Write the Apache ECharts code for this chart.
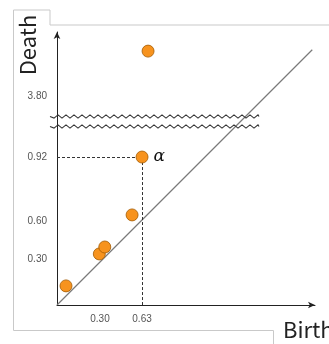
<!DOCTYPE html>
<html>
<head>
<meta charset="utf-8">
<script src="https://cdn.jsdelivr.net/npm/echarts@6/dist/echarts.min.js"></script>
<style>
  html, body { margin: 0; padding: 0; background: #fff; }
  #chart { width: 329px; height: 344px; }
</style>
</head>
<body>
<div id="chart"></div>
<script>
// schematic positions (the original figure is not drawn to scale)
const birth = [0.066, 0.31, 0.35, 0.55, 0.623, 0.667];
const death = [0.14, 0.374, 0.425, 0.66, 1.084, 1.86];
const alphaIndex = 4;
const diagLimits = [0, 1.87];

const xTickPos = [0.315, 0.623];
const xTickText = ['0.30', '0.63'];
const yTickPos = [0.337, 0.61, 1.084, 1.53];
const yTickText = ['0.30', '0.60', '0.92', '3.80'];

const breakStart = 1.31;
const breakEnd = 1.385;

const xMax = 1.89;
const yMax = 2.0;

const chart = echarts.init(document.getElementById('chart'));

const points = birth.map((b, i) => {
  const item = { value: [b, death[i]] };
  if (i === alphaIndex) {
    item.label = {
      show: true,
      formatter: 'α',
      position: 'right',
      distance: 5,
      fontFamily: 'DejaVu Serif',
      fontStyle: 'italic',
      fontSize: 17,
      color: '#111',
    };
  }
  return item;
});

const ax = birth[alphaIndex];
const ay = death[alphaIndex];

const frame = '#c9c9c9';

chart.setOption({
  animation: false,
  grid: [
    { left: 57, right: 14, top: 32, bottom: 39, outerBoundsMode: 'none' },
    { left: 50, right: 70, top: 32, bottom: 39, outerBoundsMode: 'none' },
  ],
  xAxis: [
    {
      type: 'value',
      gridIndex: 0,
      min: 0,
      max: xMax,
      splitLine: { show: false },
      axisTick: { show: false },
      axisLine: {
        onZero: false,
        symbol: ['none', 'arrow'],
        symbolSize: [5, 7],
        lineStyle: { color: '#222', width: 1 },
      },
      axisLabel: {
        customValues: xTickPos,
        formatter: (v) => xTickText[xTickPos.indexOf(v)],
        fontFamily: 'Liberation Sans',
        fontSize: 10,
        color: '#555',
        margin: 9,
      },
    },
    {
      type: 'value',
      gridIndex: 1,
      min: 0,
      max: 1,
      axisLine: { show: false },
      axisTick: { show: false },
      axisLabel: { show: false },
      splitLine: { show: false },
    },
  ],
  yAxis: [
    {
      type: 'value',
      gridIndex: 0,
      min: 0,
      max: yMax,
      splitLine: { show: false },
      axisTick: { show: false },
      axisLine: {
        onZero: false,
        symbol: ['none', 'arrow'],
        symbolSize: [5, 7],
        lineStyle: { color: '#222', width: 1 },
      },
      axisLabel: {
        customValues: yTickPos,
        formatter: (v) => yTickText[yTickPos.indexOf(v)],
        fontFamily: 'Liberation Sans',
        fontSize: 10,
        color: '#555',
        margin: 10,
      },
    },
    {
      type: 'value',
      gridIndex: 1,
      min: 0,
      max: yMax,
      axisLine: { show: false },
      axisTick: { show: false },
      axisLabel: { show: false },
      splitLine: { show: false },
      breaks: [{ start: breakStart, end: breakEnd, gap: '3.7%' }],
      breakArea: {
        show: true,
        expandOnClick: false,
        zigzagAmplitude: 1.6,
        zigzagMinSpan: 4,
        zigzagMaxSpan: 4,
        zigzagZ: 100,
        itemStyle: {
          color: 'rgba(0,0,0,0)',
          borderColor: '#333',
          borderWidth: 1.1,
          borderType: 'solid',
          opacity: 1,
        },
      },
    },
  ],
  series: [
    {
      type: 'line',
      xAxisIndex: 0,
      yAxisIndex: 0,
      data: diagLimits.map((v) => [v, v]),
      showSymbol: false,
      silent: true,
      z: 1,
      lineStyle: { color: '#7a7a7a', width: 1.2 },
    },
    {
      type: 'scatter',
      xAxisIndex: 0,
      yAxisIndex: 0,
      data: points,
      symbolSize: 12,
      z: 5,
      itemStyle: {
        color: '#F7931E',
        borderColor: '#A35A00',
        borderWidth: 0.8,
        opacity: 1,
      },
      markLine: {
        silent: true,
        symbol: 'none',
        label: { show: false },
        lineStyle: { color: '#333', width: 1, type: [3, 2] },
        data: [
          [{ coord: [0, ay] }, { coord: [ax, ay] }],
          [{ coord: [ax, ay] }, { coord: [ax, 0] }],
        ],
      },
    },
  ],
  graphic: [
    {
      type: 'polyline',
      silent: true,
      shape: { points: [[50, 25], [329, 25]] },
      style: { stroke: frame, lineWidth: 1, fill: null },
    },
    {
      type: 'polyline',
      silent: true,
      shape: { points: [[50, 25], [50, 10], [13.5, 10], [13.5, 330.5], [273.5, 330.5], [273.5, 344]] },
      style: { stroke: frame, lineWidth: 1, fill: null },
    },
    {
      type: 'text',
      silent: true,
      x: 28,
      y: 45,
      rotation: Math.PI / 2,
      style: {
        text: 'Death',
        fontFamily: 'Noto Sans CJK JP',
        fontSize: 22,
        fill: '#222',
        align: 'center',
        verticalAlign: 'middle',
      },
    },
    {
      type: 'text',
      silent: true,
      x: 283,
      y: 330,
      style: {
        text: 'Birth',
        fontFamily: 'Noto Sans CJK JP',
        fontSize: 22,
        fill: '#222',
        align: 'left',
        verticalAlign: 'middle',
      },
    },
  ],
});
</script>
</body>
</html>
